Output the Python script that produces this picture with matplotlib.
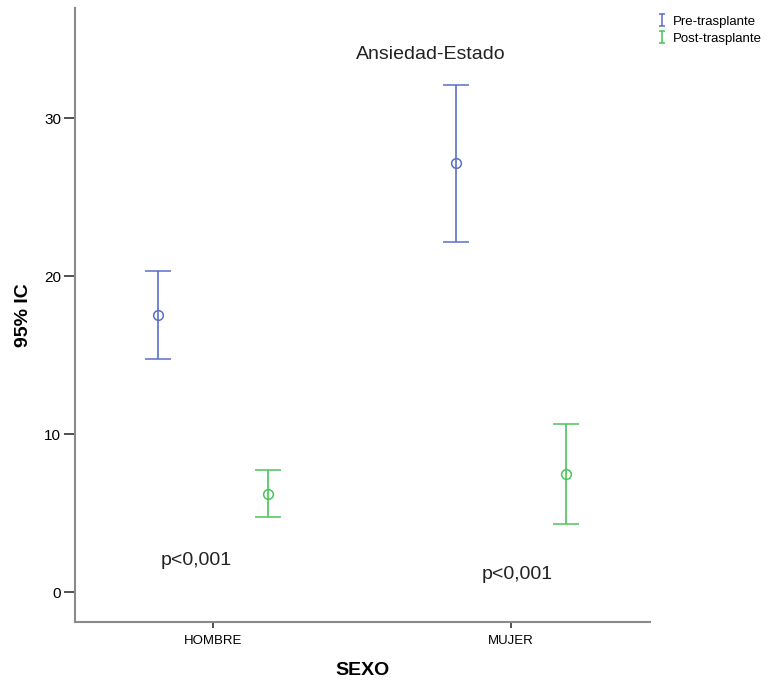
import numpy as np
import matplotlib.pyplot as plt
from matplotlib.lines import Line2D
from matplotlib.path import Path

plt.rcParams['font.family'] = ['Liberation Sans', 'DejaVu Sans']

# Data
categories = ['HOMBRE', 'MUJER']
pre_mean = [17.55, 27.15]
pre_low = [14.75, 22.2]
pre_high = [20.35, 32.1]
post_mean = [6.2, 7.45]
post_low = [4.75, 4.3]
post_high = [7.75, 10.65]
p_labels = ['p<0,001', 'p<0,001']
p_y = [2.0, 1.1]

blue = '#5a6fc6'
green = '#4cc45a'
gray = '#8a8a8a'

fig = plt.figure(figsize=(7.79, 6.89), dpi=100)
ax = fig.add_axes([0.0963, 0.0972, 0.7381, 0.8912])

x = np.arange(len(categories))
off = 0.185

def draw(xs, mean, low, high, color):
    mean = np.array(mean)
    yerr = [mean - np.array(low), np.array(high) - mean]
    ax.errorbar(xs, mean, yerr=yerr, fmt='o', mfc='none', mec=color, ms=7,
                mew=1.1, ecolor=color, elinewidth=1.2, capsize=9.5, capthick=1.2)

draw(x - off, pre_mean, pre_low, pre_high, blue)
draw(x + off, post_mean, post_low, post_high, green)

ax.text(0.73, 34.05, 'Ansiedad-Estado', ha='center', va='center', fontsize=14, color='#222222')
for i, lab in enumerate(p_labels):
    ax.text(x[i] - 0.055 + 0.075 * i, p_y[i], lab, ha='center', va='center', fontsize=14, color='#222222')

ax.set_xlim(-0.463, 1.466)
ax.set_ylim(-1.9, 37.0)
ax.set_xticks(x)
ax.set_xticklabels(categories, fontsize=9.5)
ax.set_yticks([0, 10, 20, 30])
ax.tick_params(axis='y', length=8, width=1.2, color='#333333', labelsize=11, pad=2)
ax.tick_params(axis='x', length=4, width=1.2, color='#333333', pad=5)
for s in ['top', 'right']:
    ax.spines[s].set_visible(False)
for s in ['left', 'bottom']:
    ax.spines[s].set_color(gray)
    ax.spines[s].set_linewidth(1.5)

ax.set_xlabel('SEXO', fontsize=14, fontweight='bold', labelpad=11)
ax.set_ylabel('95% IC', fontsize=14, fontweight='bold', labelpad=9)

# small error-bar glyph for the legend
ibar = Path([(-0.5, 1), (0.5, 1), (0, 1), (0, -1), (-0.5, -1), (0.5, -1)],
            [Path.MOVETO, Path.LINETO, Path.MOVETO, Path.LINETO, Path.MOVETO, Path.LINETO])
handles = [Line2D([], [], color=blue, marker=ibar, ls='none', ms=8, mew=1.1),
           Line2D([], [], color=green, marker=ibar, ls='none', ms=8, mew=1.1)]
fig.legend(handles, ['Pre-trasplante', 'Post-trasplante'], loc='upper left',
           bbox_to_anchor=(0.828, 0.995), frameon=False, fontsize=9.5,
           handlelength=0.8, handletextpad=0.4, labelspacing=0.4)

fig.savefig('out.png', dpi=100)
